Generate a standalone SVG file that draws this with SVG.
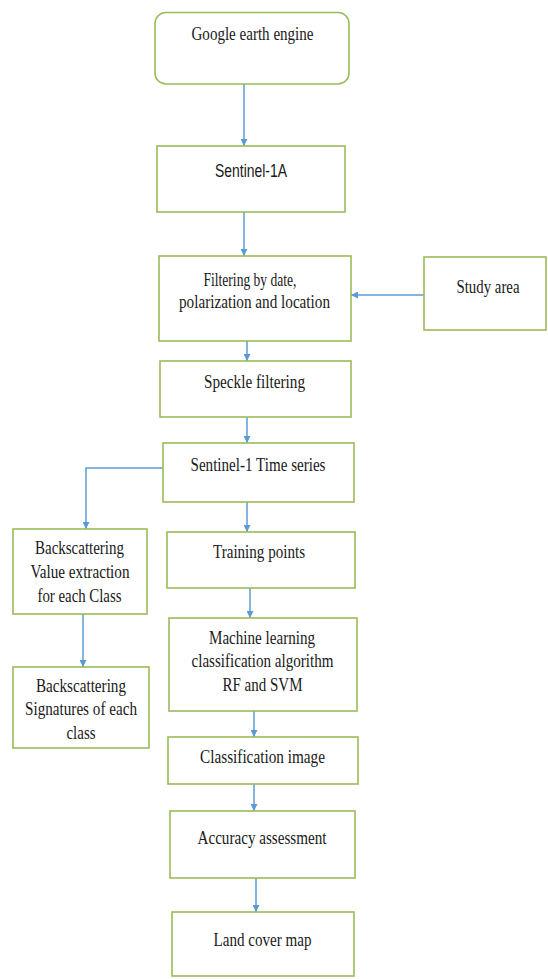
<svg xmlns="http://www.w3.org/2000/svg" width="548" height="979" viewBox="0 0 548 979">
<style>
.box{fill:#ffffff;stroke:#9bbb59;stroke-width:1.6}
.t{font-family:"Liberation Serif","Times New Roman",serif;font-size:19px;fill:#1a1a1a;text-anchor:middle}
.s{font-family:"Liberation Sans",Arial,sans-serif;font-size:18px;fill:#1a1a1a;text-anchor:middle}
.c{fill:none;stroke:#5b9bd5;stroke-width:1.5}
</style>
<defs>
<marker id="ah" viewBox="0 0 10 10" refX="10" refY="5" markerWidth="7" markerHeight="7" markerUnits="userSpaceOnUse" orient="auto">
<path d="M0,0 L10,5 L0,10 z" fill="#5b9bd5"/>
</marker>
</defs>
<rect width="548" height="979" fill="#ffffff"/>
<g id="connectors">
<path class="c" d="M244,84 V146" marker-end="url(#ah)"/>
<path class="c" d="M244,212 V256" marker-end="url(#ah)"/>
<path class="c" d="M424,295 H351" marker-end="url(#ah)"/>
<path class="c" d="M247,341 V361" marker-end="url(#ah)"/>
<path class="c" d="M247,417 V443" marker-end="url(#ah)"/>
<path class="c" d="M163,468 H86 V529" marker-end="url(#ah)"/>
<path class="c" d="M247,502 V532" marker-end="url(#ah)"/>
<path class="c" d="M83,614 V667" marker-end="url(#ah)"/>
<path class="c" d="M250,588 V618" marker-end="url(#ah)"/>
<path class="c" d="M254,711 V737" marker-end="url(#ah)"/>
<path class="c" d="M254,784 V811" marker-end="url(#ah)"/>
<path class="c" d="M256,878 V912" marker-end="url(#ah)"/>
</g>
<g id="google">
<rect class="box" x="155" y="12.5" width="194" height="71.5" rx="11"/>
<text class="t" x="252.5" y="39.5" textLength="122" lengthAdjust="spacingAndGlyphs">Google earth engine</text>
</g>
<g id="sentinel1a">
<rect class="box" x="157" y="146" width="188" height="66"/>
<text class="s" x="251" y="177" textLength="72" lengthAdjust="spacingAndGlyphs">Sentinel-1A</text>
</g>
<g id="filtering">
<rect class="box" x="159" y="256" width="192" height="85"/>
<text class="t" x="250" y="285.5" textLength="93" lengthAdjust="spacingAndGlyphs">Filtering by date,</text>
<text class="t" x="254.5" y="307.5" textLength="151" lengthAdjust="spacingAndGlyphs">polarization and location</text>
</g>
<g id="study">
<rect class="box" x="424" y="257" width="122" height="73"/>
<text class="t" x="488" y="292.5" textLength="63" lengthAdjust="spacingAndGlyphs">Study area</text>
</g>
<g id="speckle">
<rect class="box" x="160" y="361" width="191" height="56"/>
<text class="t" x="254.5" y="387.5" textLength="101" lengthAdjust="spacingAndGlyphs">Speckle filtering</text>
</g>
<g id="timeseries">
<rect class="box" x="163" y="443" width="191" height="59"/>
<text class="t" x="258" y="470.5" textLength="135" lengthAdjust="spacingAndGlyphs">Sentinel-1 Time series</text>
</g>
<g id="backscatter1">
<rect class="box" x="13" y="529" width="134" height="85"/>
<text class="t" x="79.5" y="554" textLength="89" lengthAdjust="spacingAndGlyphs">Backscattering</text>
<text class="t" x="80" y="578" textLength="99" lengthAdjust="spacingAndGlyphs">Value extraction</text>
<text class="t" x="79.5" y="602" textLength="84" lengthAdjust="spacingAndGlyphs">for each Class</text>
</g>
<g id="training">
<rect class="box" x="167" y="532" width="188" height="56"/>
<text class="t" x="259" y="557.5" textLength="92" lengthAdjust="spacingAndGlyphs">Training points</text>
</g>
<g id="ml">
<rect class="box" x="169" y="618" width="188" height="93"/>
<text class="t" x="262" y="644" textLength="106" lengthAdjust="spacingAndGlyphs">Machine learning</text>
<text class="t" x="262.5" y="667" textLength="142" lengthAdjust="spacingAndGlyphs">classification algorithm</text>
<text class="t" x="262.5" y="691" textLength="80" lengthAdjust="spacingAndGlyphs">RF and SVM</text>
</g>
<g id="backscatter2">
<rect class="box" x="13" y="667" width="136" height="81"/>
<text class="t" x="81" y="692" textLength="90" lengthAdjust="spacingAndGlyphs">Backscattering</text>
<text class="t" x="81" y="715" textLength="112" lengthAdjust="spacingAndGlyphs">Signatures of each</text>
<text class="t" x="81" y="739" textLength="29" lengthAdjust="spacingAndGlyphs">class</text>
</g>
<g id="classification">
<rect class="box" x="168" y="737" width="190" height="47"/>
<text class="t" x="262.5" y="762.5" textLength="125" lengthAdjust="spacingAndGlyphs">Classification image</text>
</g>
<g id="accuracy">
<rect class="box" x="170" y="811" width="185" height="67"/>
<text class="t" x="262" y="844" textLength="129" lengthAdjust="spacingAndGlyphs">Accuracy assessment</text>
</g>
<g id="landcover">
<rect class="box" x="172" y="912" width="182" height="64"/>
<text class="t" x="262.5" y="945.5" textLength="98" lengthAdjust="spacingAndGlyphs">Land cover map</text>
</g>
</svg>
